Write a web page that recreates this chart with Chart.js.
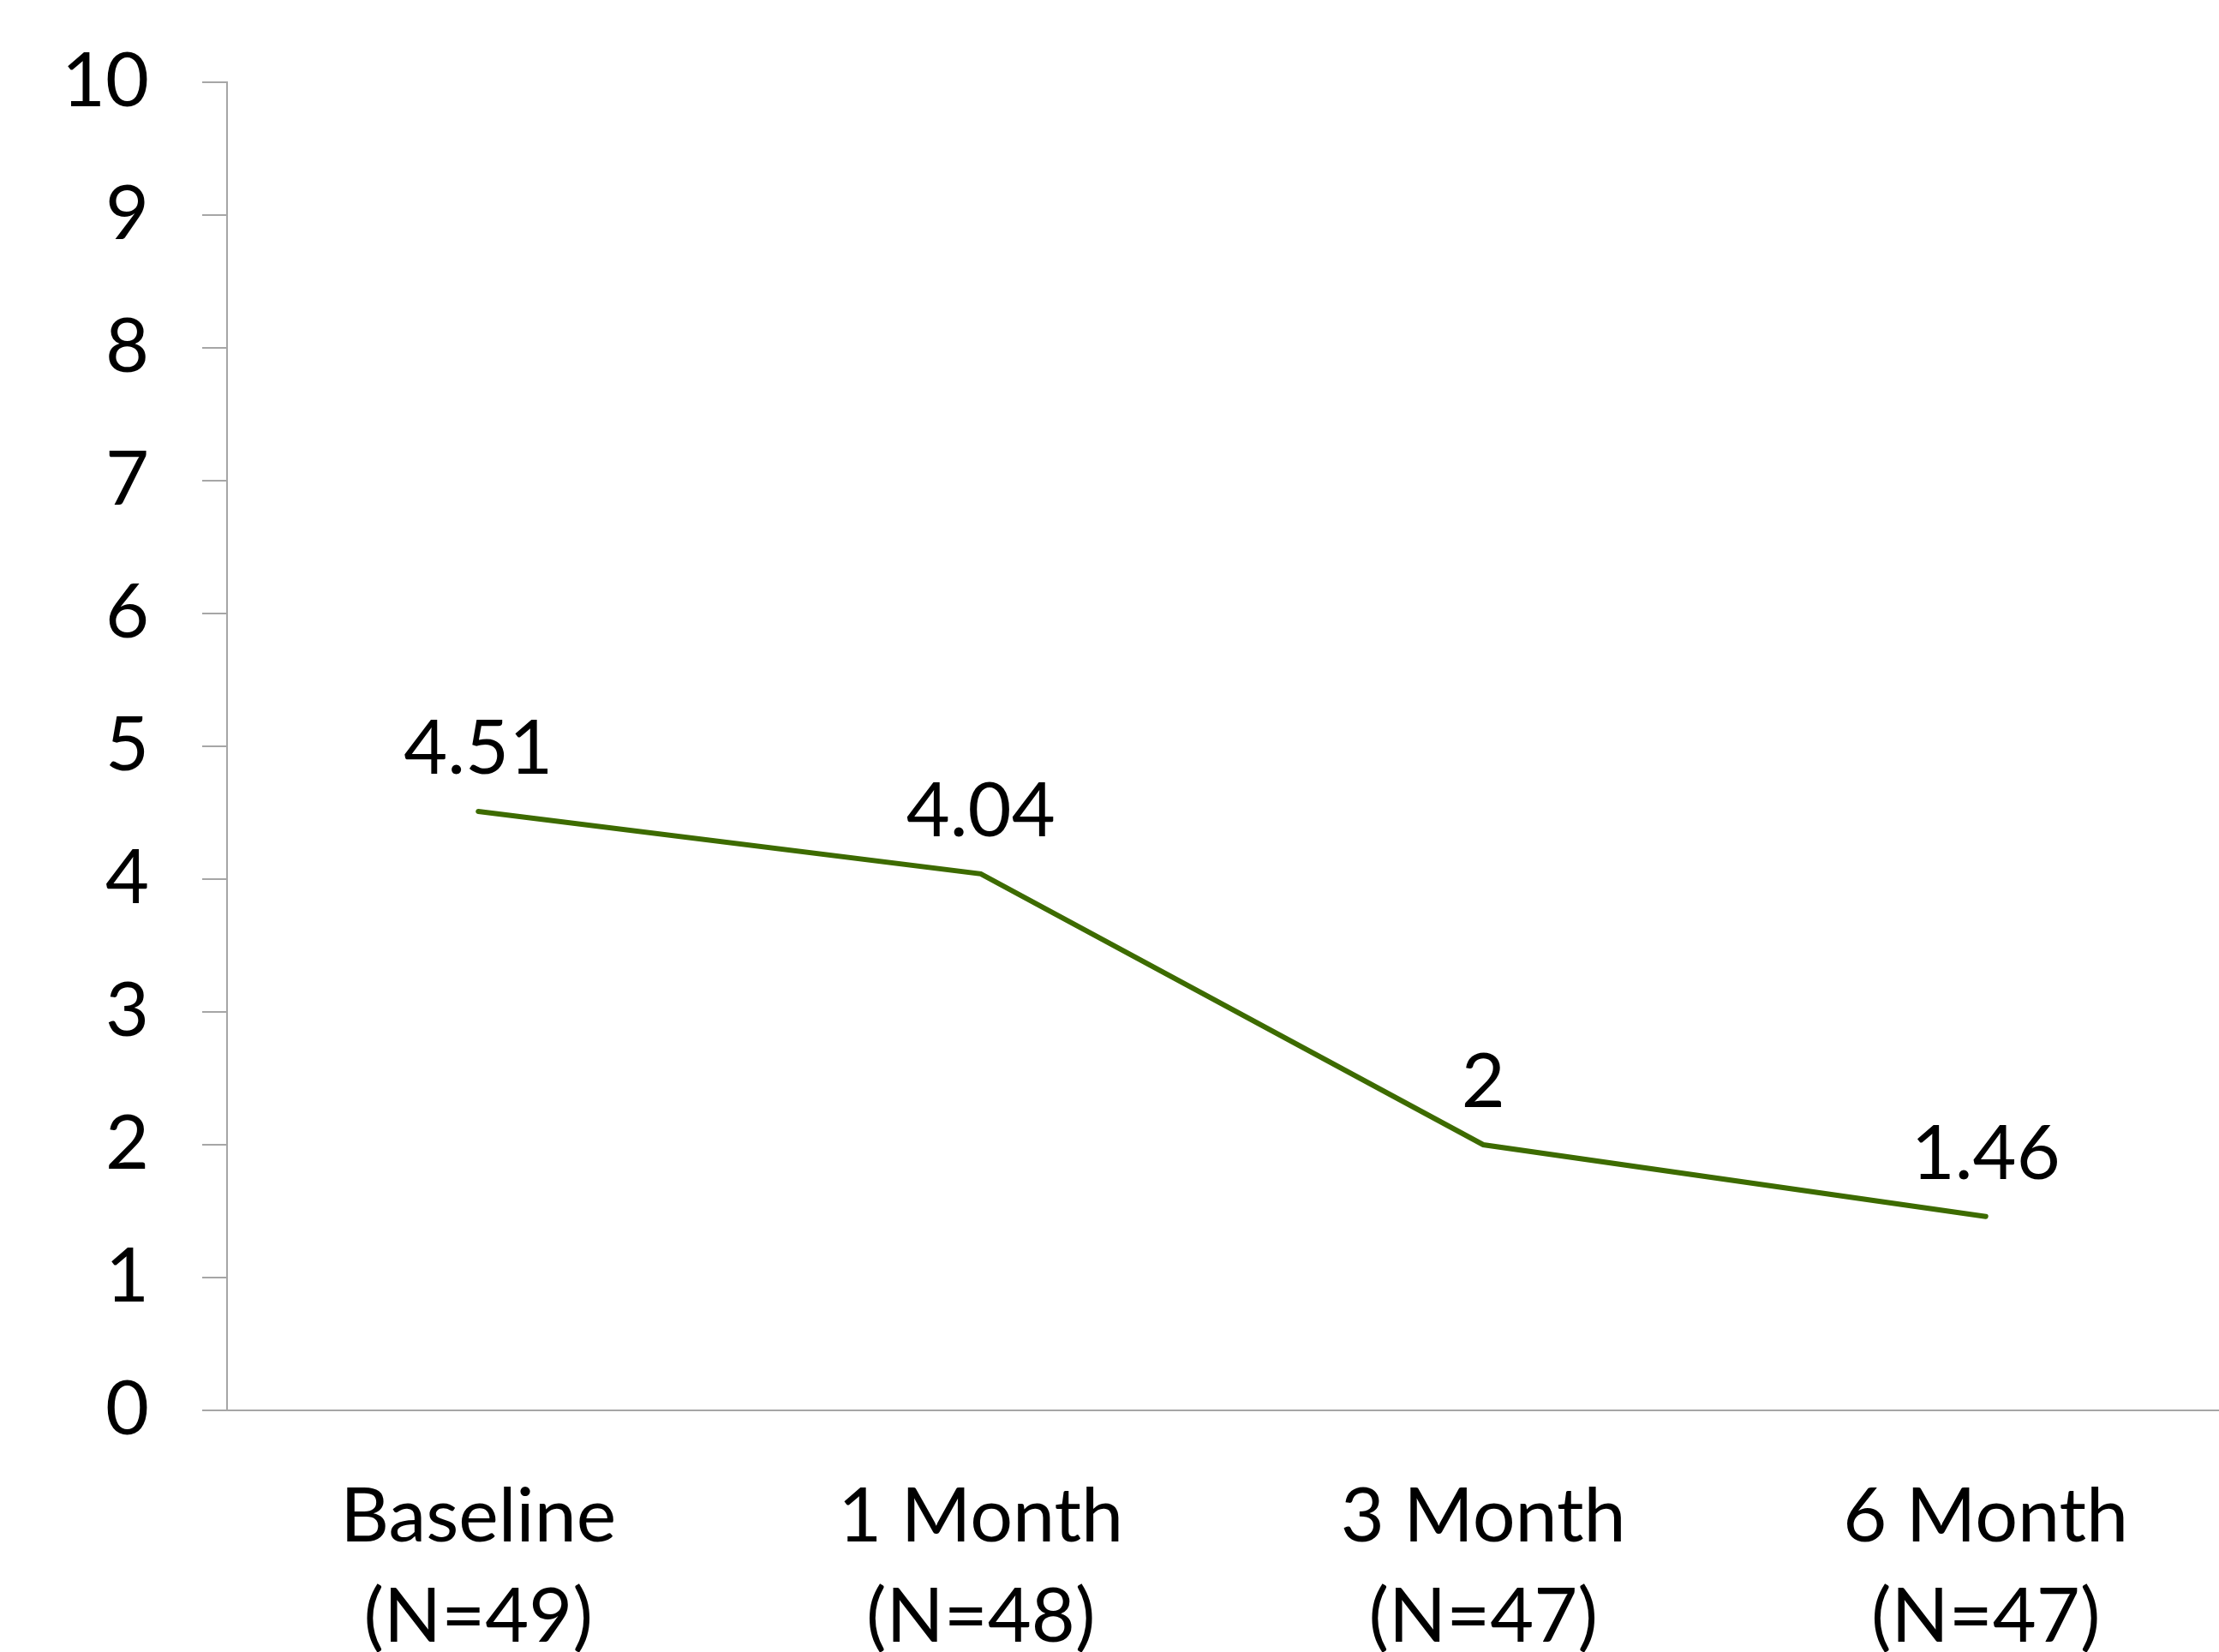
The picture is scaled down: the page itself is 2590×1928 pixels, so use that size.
<!DOCTYPE html>
<html>
<head>
<meta charset="utf-8">
<title>Score over follow-up</title>
<script src="https://cdn.jsdelivr.net/npm/chart.js@4/dist/chart.umd.min.js"></script>
<style>
  html, body { margin: 0; padding: 0; background: #ffffff; overflow: hidden; }
  #wrap { position: relative; width: 2611px; height: 1928px; }
</style>
</head>
<body>
<div id="wrap"><canvas id="chart"></canvas></div>
<script>
// Visit labels (two lines each) and mean scores
const visitNames = ['Baseline', '1 Month', '3 Month', '6 Month'];
const sampleSizes = ['(N=49)', '(N=48)', '(N=47)', '(N=47)'];
const meanScores = [4.51, 4.04, 2, 1.46];
const yTicks = [0, 1, 2, 3, 4, 5, 6, 7, 8, 9, 10];

const FONT = 'Lato, "Open Sans", sans-serif';
const AXIS_GRAY = '#a6a6a6';
const LINE_GREEN = '#3d6b00';

const categories = visitNames.map((name, i) => [name, sampleSizes[i]]);

// Writes each point's value just above it
const valueLabels = {
  id: 'valueLabels',
  afterDatasetsDraw(chart) {
    const ctx = chart.ctx;
    const meta = chart.getDatasetMeta(0);
    ctx.save();
    ctx.font = '88px ' + FONT;
    ctx.fillStyle = '#000000';
    ctx.textAlign = 'center';
    ctx.textBaseline = 'alphabetic';
    meta.data.forEach((pt, i) => {
      ctx.fillText(String(meanScores[i]), pt.x, pt.y - 44);
    });
    ctx.restore();
  }
};

new Chart(document.getElementById('chart'), {
  type: 'line',
  data: {
    labels: categories,
    datasets: [{
      data: meanScores,
      borderColor: LINE_GREEN,
      borderWidth: 6,
      borderCapStyle: 'round',
      borderJoinStyle: 'miter',
      pointRadius: 0,
      pointHoverRadius: 0,
      tension: 0,
      fill: false
    }]
  },
  options: {
    responsive: true,
    maintainAspectRatio: false,
    animation: false,
    events: [],
    layout: { padding: { top: 96, right: 0, bottom: 0, left: 0 } },
    plugins: {
      legend: { display: false },
      tooltip: { enabled: false },
      title: { display: false }
    },
    scales: {
      x: {
        type: 'category',
        offset: true,
        grid: { display: false, drawTicks: false },
        border: { display: true, color: AXIS_GRAY, width: 2 },
        ticks: {
          color: '#000000',
          padding: 66,
          maxRotation: 0,
          autoSkip: false,
          font: { family: FONT, size: 88, lineHeight: 1.33 }
        },
        afterFit(scale) {
          scale.height = 282;
          scale.paddingLeft = 0;
          scale.paddingRight = 0;
        }
      },
      y: {
        min: 0,
        max: 10,
        afterBuildTicks(scale) { scale.ticks = yTicks.map(v => ({ value: v })); },
        grid: {
          drawOnChartArea: false,
          drawTicks: true,
          tickLength: 29,
          color: AXIS_GRAY,
          lineWidth: 2
        },
        border: { display: true, color: AXIS_GRAY, width: 2 },
        ticks: {
          color: '#000000',
          padding: 62,
          font: { family: FONT, size: 88 }
        },
        afterFit(scale) {
          scale.width = 265;
          scale.paddingTop = 0;
          scale.paddingBottom = 0;
        }
      }
    }
  },
  plugins: [valueLabels]
});
</script>
</body>
</html>
